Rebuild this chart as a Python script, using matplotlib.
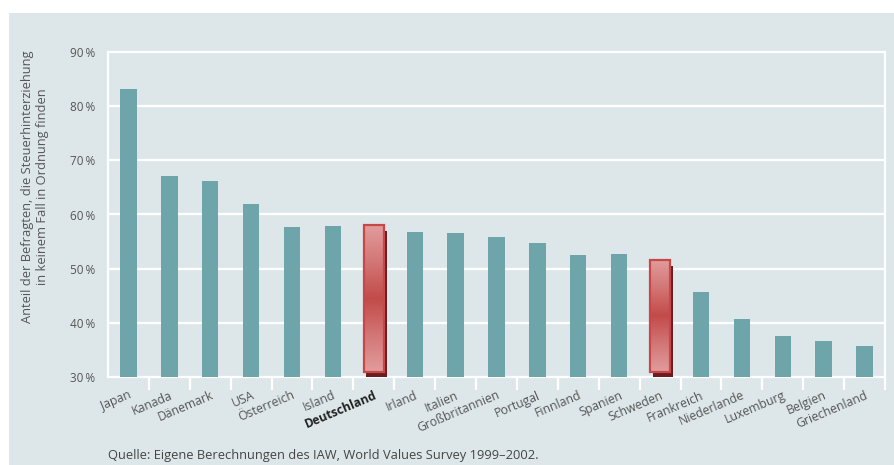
import numpy as np
import matplotlib.pyplot as plt
from matplotlib.patches import Rectangle
from matplotlib.colors import LinearSegmentedColormap

countries = ["Japan", "Kanada", "Dänemark", "USA", "Österreich", "Island",
             "Deutschland", "Irland", "Italien", "Großbritannien", "Portugal",
             "Finnland", "Spanien", "Schweden", "Frankreich", "Niederlande",
             "Luxemburg", "Belgien", "Griechenland"]
values = [83.1, 67.1, 66.2, 61.9, 57.7, 57.9, 58.0, 56.8, 56.6, 55.9, 54.8,
          52.5, 52.8, 51.6, 45.7, 40.7, 37.6, 36.7, 35.8]
highlight = ["Deutschland", "Schweden"]
yticks = [30, 40, 50, 60, 70, 80, 90]

BG = "#dde7e9"
TEAL = "#6ea5aa"
TXT = "#555555"
FONT = "Open Sans"

plt.rcParams["font.family"] = [FONT, "DejaVu Sans"]

fig = plt.figure(figsize=(8.95, 4.65), dpi=100)
fig.patch.set_facecolor("white")
fig.patches.append(Rectangle((9 / 895, 0), 1, 1 - 13 / 465, transform=fig.transFigure,
                             facecolor=BG, edgecolor="none", zorder=-10))

ax = fig.add_axes([108 / 895, 1 - 377 / 465, 777 / 895, 325 / 465])
ax.set_facecolor("none")

# grid
for y in yticks:
    ax.axhline(y, color="white", lw=1.6, zorder=1, clip_on=False)
for s in ["top", "bottom"]:
    ax.spines[s].set_visible(False)
for s in ["left", "right"]:
    ax.spines[s].set_color("white")
    ax.spines[s].set_linewidth(1.6)

x = np.arange(len(countries))
red_cmap = LinearSegmentedColormap.from_list(
    "redbar", ["#e29c9c", "#d37676", "#c24b49", "#d37676", "#e29c9c"])
grad = np.linspace(0, 1, 256).reshape(-1, 1)
dy_px = 60 / 325  # data units per pixel

for xi, name, v in zip(x, countries, values):
    if name in highlight:
        w = 0.5
        # shadow
        ax.add_patch(Rectangle((xi - w / 2 + 0.07, 30), w, v - 30 - 6 * dy_px,
                               facecolor="#6b1c1e", edgecolor="none", zorder=2))
        bar = Rectangle((xi - w / 2, 30 + 5 * dy_px), w, v - 30 - 5 * dy_px,
                        facecolor="none", edgecolor="#c8474a", lw=1.6, zorder=4)
        ax.add_patch(bar)
        im = ax.imshow(grad, cmap=red_cmap, aspect="auto", zorder=3,
                       extent=[xi - w / 2, xi + w / 2, 30 + 5 * dy_px, v])
        im.set_clip_path(bar)
    else:
        ax.bar(xi, v - 30, bottom=30, width=0.4, color=TEAL, zorder=2)

ax.set_xlim(-0.5, len(countries) - 0.5)
ax.set_ylim(30, 90)

ax.set_yticks(yticks)
ax.set_yticklabels([f"{t}\u2009%" for t in yticks], fontsize=8.5, color=TXT)
ax.tick_params(axis="y", length=0, pad=9)

ax.set_xticks(x)
labels = ax.set_xticklabels(countries, rotation=23, ha="right",
                            rotation_mode="anchor", fontsize=8.8, color=TXT)
for lab in labels:
    if lab.get_text() == "Deutschland":
        lab.set_fontweight("bold")
        lab.set_color("#222222")
ax.tick_params(axis="x", which="major", length=0, pad=8.5)
ax.set_xticks(np.arange(0.5, len(countries) - 0.5 + 1, 1), minor=True)
ax.tick_params(axis="x", which="minor", length=9.5, width=1.6, color="white",
               direction="out")

fig.text(35 / 895, 1 - 187 / 465,
         "Anteil der Befragten, die Steuerhinterziehung\nin keinem Fall in Ordnung finden",
         rotation=90, ha="center", va="center", multialignment="center",
         fontsize=9.3, color=TXT)
fig.text(108 / 895, 1 - 455 / 465,
         "Quelle: Eigene Berechnungen des IAW, World Values Survey 1999\u20132002.",
         ha="left", va="center", fontsize=9.3, color="#444444")

fig.savefig("out.png", dpi=100)
